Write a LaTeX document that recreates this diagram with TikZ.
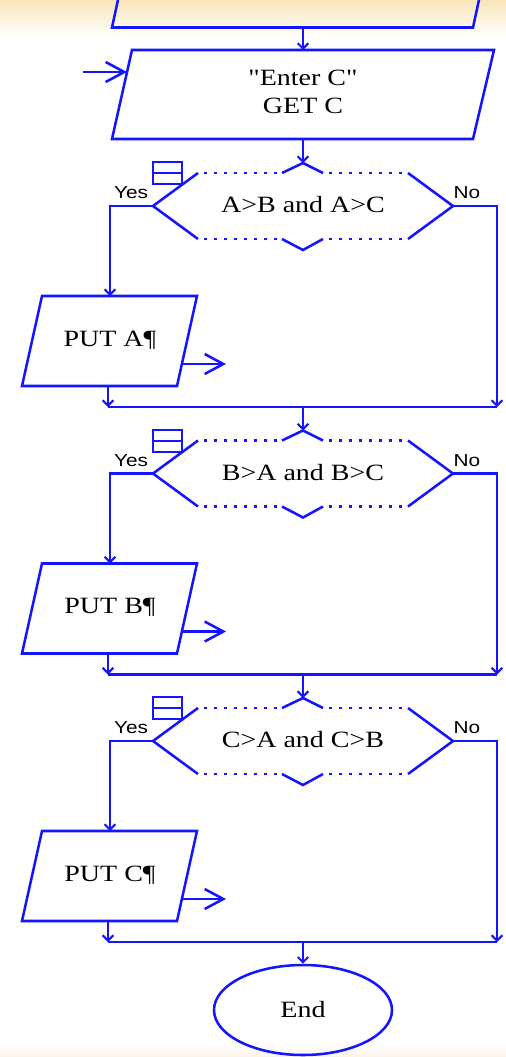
\documentclass[tikz,border=0pt]{standalone}
\usepackage{fontspec}
\setmainfont{Liberation Serif}[Ligatures=TeXOff]
\newfontfamily\lserif{Liberation Serif}[FakeStretch=1.2,Ligatures=TeXOff]
\newfontfamily\lsans{Liberation Sans}[FakeStretch=1.2]
\usetikzlibrary{arrows.meta,shapes.geometric}
\definecolor{fc}{RGB}{20,20,255}
\definecolor{beige}{RGB}{248,230,185}
\definecolor{beigelt}{RGB}{250,244,232}
\tikzset{
  fl/.style={draw=fc,line width=1.9pt,line join=miter},
  con/.style={fl,-{Straight Barb[length=4pt,width=8pt,line width=1.5pt]}},
  bigarr/.style={fl,-{Straight Barb[length=14pt,width=15pt,line width=1.9pt]}},
  dots/.style={draw=fc,line width=1.9pt,dash pattern=on 1.9pt off 5.6pt},
  lbl/.style={font=\lserif\fontsize{17.5}{21}\selectfont,text=black,align=center,inner sep=0pt},
  yn/.style={font=\lsans\fontsize{13}{15}\selectfont,text=black,inner sep=0pt},
  endbox/.style={fl,ellipse,minimum width=133.5pt,minimum height=67.5pt,inner sep=0pt,
    font=\lserif\fontsize{17.5}{21}\selectfont,text=black},
  icon/.style={draw=fc,line width=1.5pt,fill=white}
}
\begin{document}
\begin{tikzpicture}[x=0.75pt,y=-0.75pt]
\useasboundingbox (0,0) rectangle (506,1057);
\clip (0,0) rectangle (506,1057);
\fill[white] (0,0) rectangle (506,1057);
\shade[top color=beige,bottom color=white] (0,0) rectangle (506,38);
\shade[top color=white,bottom color=beigelt] (0,1042) rectangle (506,1057);

% partial box at top
\draw[fl] (118.6,-3) -- (112,27.5) -- (473,27.5) -- (479.6,-3);
\coordinate (topout) at (303,27.5);

% Enter C input box
\draw[fl] (132,50) -- (494,50) -- (473,139) -- (112,139) -- cycle;
\node[lbl] (enterc) at (303,92) {"Enter C"\\GET C};
\coordinate (incT) at (303,50);
\coordinate (incB) at (303,139);
\coordinate (incL) at (127,72);
\coordinate (entry) at (83,72);
\draw[con] (topout) -- (incT);
\draw[bigarr] (entry) -- (incL);

\foreach \k/\cond/\var in {0/A>B and A>C/A,1/B>A and B>C/B,2/C>A and C>B/C}{
  \pgfmathsetmacro{\Y}{206+267.5*\k}
  \begin{scope}[shift={(0,\Y)}]
    % decision shape
    \draw[fl] (198,-33) -- (153,0) -- (198,33);
    \draw[fl] (408,-33) -- (453,0) -- (408,33);
    \draw[fl] (282,-33) -- (303,-43) -- (323,-33);
    \draw[fl] (282,33) -- (303,44) -- (323,33);
    \draw[dots] (204,-33) -- (282,-33);
    \draw[dots] (329,-33) -- (408,-33);
    \draw[dots] (204,33) -- (282,33);
    \draw[dots] (329,33) -- (408,33);
    \draw[icon] (153,-44) rectangle (182,-22);
    \draw[draw=fc,line width=1.5pt] (153,-33) -- (182,-33);
    \node[lbl] (dec\k) at (303,-1) {\cond};
    \coordinate (decT\k) at (303,-43);
    \coordinate (decL\k) at (153,0);
    \coordinate (decR\k) at (453,0);
    \node[yn] (yes\k) at (131,-13) {Yes};
    \node[yn] (no\k) at (467,-13) {No};
    % output box
    \draw[fl] (42,90) -- (197,90) -- (177,180) -- (22,180) -- cycle;
    \node[lbl] (put\k) at (110,134) {PUT \var¶};
    \coordinate (putT\k) at (110,90);
    \coordinate (putB\k) at (108,180);
    \coordinate (putR\k) at (182,158);
    \coordinate (putO\k) at (226,158);
    \coordinate (mL\k) at (108,201);
    \coordinate (mR\k) at (497,201);
    \coordinate (mC\k) at (303,201);
    % connectors
    \draw[con] (decL\k) -| (putT\k);
    \draw[con] (decR\k) -| (mR\k);
    \draw[con] (putB\k) -- (mL\k);
    \draw[fl] (mL\k) -- (mR\k);
    \draw[bigarr] (putR\k) -- (putO\k);
  \end{scope}
}
\draw[con] (incB) -- (decT0);
\draw[con] (mC0) -- (decT1);
\draw[con] (mC1) -- (decT2);

\node[endbox] (end) at (303,1010) {End};
\draw[con] (mC2) -- (end.north);
\end{tikzpicture}
\end{document}
